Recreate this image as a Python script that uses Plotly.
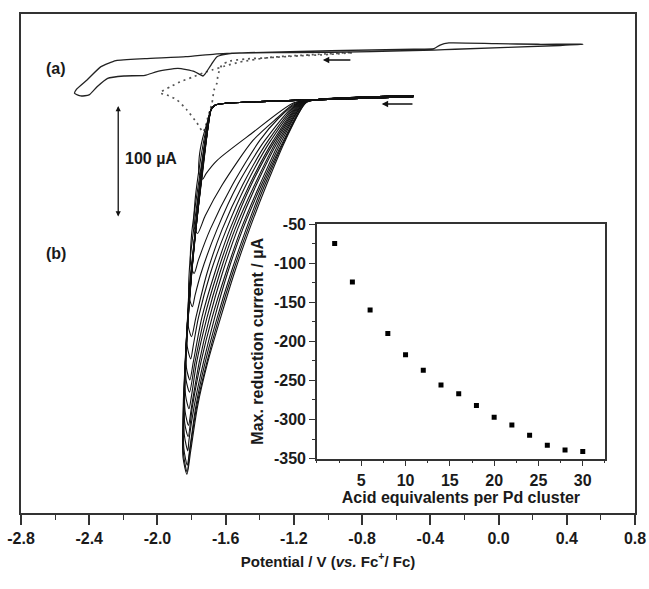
import plotly.graph_objects as go

# inset: peak reduction current vs acid equivalents
acid_eq = [2, 4, 6, 8, 10, 12, 14, 16, 18, 20, 22, 24, 26, 28, 30]
max_current = [-75, -124, -160, -190, -217, -237, -256, -267, -282, -297, -307, -320, -333, -339, -341]

# (a) CV of the cluster, solid loop (potential V, current uA, offset on plot)
a_E = [0.495, 0.36, -0.255, -0.379, -0.742, -1.223, -1.563, -1.651, -1.686, -1.721, -1.733,
       -1.783, -1.88, -2.003, -2.073, -2.196, -2.292, -2.354, -2.401, -2.45, -2.486,
       -2.475, -2.413, -2.331, -2.243, -2.073, -1.833, -1.663, -1.469, -0.982, -0.496,
       -0.379, -0.343, -0.291, -0.015, 0.231, 0.495]
a_I = [46.7, 45.6, 42.2, 41.5, 40.0, 39.1, 38.6, 35.5, 28.0, 19.9, 18.1,
       22.0, 25.0, 22.0, 18.7, 18.1, 16.0, 8.4, 1.0, 0.1, 2.5,
       6.1, 14.5, 26.5, 31.9, 33.7, 35.5, 37.9, 39.1, 40.9, 42.2,
       42.7, 46.0, 47.9, 47.2, 46.7, 46.7]

# (a) dotted curve
d_E = [-0.86, -0.988, -1.223, -1.346, -1.487, -1.575, -1.622, -1.645, -1.651, -1.668,
       -1.68, -1.704, -1.721, -1.733, -1.768, -1.827, -1.885, -1.944, -1.985, -1.926,
       -1.868, -1.792, -1.733, -1.68, -1.604, -1.516, -1.346, -1.106, -0.86]
d_I = [39.0, 37.6, 35.8, 34.6, 33.4, 31.6, 28.0, 19.0, 11.8, 5.5,
       -6.3, -18.9, -28.8, -32.4, -24.3, -12.6, -3.5, 1.0, 2.8, 8.2,
       12.7, 17.2, 20.8, 23.5, 27.1, 30.7, 34.8, 37.2, 39.4]

# (b) catalytic cycles, shared baseline parts
b_fwd_E = [-0.50, -0.80, -1.05]
b_fwd_I = [0.5, -1.0, -3.0]
b_end_E = [-1.66, -1.60, -1.40, -1.00, -0.50]
b_end_I = [-8.0, -6.5, -5.0, -3.0, -0.5]

# cathodic branch of every cycle (one list per acid addition)
b_cath_E = [
    [-1.20, -1.45, -1.65, -1.715, -1.735],
    [-1.19, -1.30, -1.44, -1.62, -1.72, -1.765],
    [-1.18, -1.29, -1.40, -1.56, -1.69, -1.76, -1.785],
    [-1.175, -1.37, -1.53, -1.65, -1.745, -1.78, -1.795],
    [-1.17, -1.35, -1.50, -1.62, -1.71, -1.775, -1.80],
    [-1.165, -1.335, -1.48, -1.595, -1.69, -1.76, -1.79, -1.805],
    [-1.16, -1.32, -1.46, -1.575, -1.665, -1.74, -1.79, -1.81],
    [-1.155, -1.31, -1.45, -1.56, -1.65, -1.725, -1.78, -1.812],
    [-1.15, -1.30, -1.43, -1.545, -1.635, -1.71, -1.77, -1.80, -1.815],
    [-1.145, -1.29, -1.42, -1.53, -1.62, -1.695, -1.755, -1.80, -1.818],
    [-1.14, -1.28, -1.40, -1.51, -1.60, -1.68, -1.745, -1.795, -1.82],
    [-1.14, -1.27, -1.39, -1.50, -1.59, -1.665, -1.73, -1.785, -1.815, -1.822],
    [-1.135, -1.26, -1.38, -1.48, -1.57, -1.65, -1.72, -1.775, -1.812, -1.825],
    [-1.13, -1.255, -1.37, -1.47, -1.56, -1.64, -1.71, -1.77, -1.81, -1.826],
    [-1.13, -1.25, -1.36, -1.46, -1.55, -1.63, -1.705, -1.765, -1.805, -1.827],
]
b_cath_I = [
    [-6, -34, -58, -70, -75],
    [-6, -20, -40, -80, -108, -124],
    [-6, -20, -40, -80, -120, -148, -160],
    [-6, -40, -80, -120, -160, -180, -190],
    [-6, -40, -80, -120, -160, -200, -217],
    [-6, -40, -80, -120, -160, -200, -225, -237],
    [-6, -40, -80, -120, -160, -200, -240, -256],
    [-6, -40, -80, -120, -160, -200, -240, -267],
    [-6, -40, -80, -120, -160, -200, -240, -270, -282],
    [-6, -40, -80, -120, -160, -200, -240, -280, -297],
    [-6, -40, -80, -120, -160, -200, -240, -280, -307],
    [-6, -40, -80, -120, -160, -200, -240, -280, -310, -320],
    [-6, -40, -80, -120, -160, -200, -240, -280, -320, -333],
    [-6, -40, -80, -120, -160, -200, -240, -280, -320, -339],
    [-6, -40, -80, -120, -160, -200, -240, -280, -320, -341],
]
# return (anodic) branch of every cycle
b_ret_E = [
    [-1.755, -1.755, -1.735, -1.705, -1.685],
    [-1.785, -1.78, -1.75, -1.715, -1.685],
    [-1.805, -1.80, -1.765, -1.725, -1.69],
    [-1.815, -1.81, -1.775, -1.735, -1.70, -1.685],
    [-1.82, -1.815, -1.78, -1.74, -1.705, -1.685],
    [-1.825, -1.82, -1.785, -1.745, -1.705, -1.685],
    [-1.83, -1.825, -1.79, -1.75, -1.71, -1.685],
    [-1.832, -1.828, -1.795, -1.752, -1.71, -1.685],
    [-1.835, -1.832, -1.80, -1.755, -1.712, -1.685],
    [-1.838, -1.836, -1.805, -1.76, -1.715, -1.685],
    [-1.84, -1.838, -1.81, -1.765, -1.718, -1.685],
    [-1.842, -1.84, -1.812, -1.768, -1.72, -1.685],
    [-1.845, -1.843, -1.815, -1.77, -1.722, -1.685],
    [-1.847, -1.845, -1.817, -1.772, -1.724, -1.685],
    [-1.85, -1.848, -1.82, -1.775, -1.726, -1.685],
]
b_ret_I = [
    [-70, -55, -38, -22, -12],
    [-118, -95, -60, -30, -12],
    [-152, -125, -85, -45, -14],
    [-181, -150, -105, -60, -25, -12],
    [-207, -175, -125, -75, -30, -12],
    [-226, -190, -135, -80, -30, -12],
    [-245, -205, -145, -85, -35, -12],
    [-256, -215, -150, -88, -35, -12],
    [-270, -225, -160, -92, -37, -12],
    [-284, -235, -168, -98, -38, -12],
    [-295, -245, -175, -102, -40, -12],
    [-306, -255, -182, -106, -42, -12],
    [-318, -265, -190, -110, -44, -12],
    [-323, -270, -195, -112, -45, -12],
    [-326, -275, -200, -115, -46, -12],
]

x_ticks = [-2.8, -2.4, -2.0, -1.6, -1.2, -0.8, -0.4, 0.0, 0.4, 0.8]
x_ticktext = ['-2.8', '-2.4', '-2.0', '-1.6', '-1.2', '-0.8', '-0.4', '0.0', '0.4', '0.8']
in_xticks = [5, 10, 15, 20, 25, 30]
in_yticks = [-350, -300, -250, -200, -150, -100, -50]
in_yticktext = ['-350', '-300', '-250', '-200', '-150', '-100', '-50']

FONT = 'Liberation Sans, Arial'

fig = go.Figure()

fig.add_trace(go.Scatter(x=d_E, y=d_I, mode='lines',
                         line=dict(color='#555', width=1.7, dash='2px,4px', shape='spline', smoothing=0.6),
                         showlegend=False, hoverinfo='skip'))
fig.add_trace(go.Scatter(x=a_E, y=a_I, mode='lines', line=dict(color='#222', width=1.3, shape='spline', smoothing=0.5),
                         showlegend=False, hoverinfo='skip'))

for k in range(len(b_cath_E)):
    xs = b_fwd_E + b_cath_E[k] + b_ret_E[k] + b_end_E
    ys = b_fwd_I + b_cath_I[k] + b_ret_I[k] + b_end_I
    fig.add_trace(go.Scatter(x=xs, y=ys, mode='lines', line=dict(color='#111', width=1.1, shape='spline', smoothing=0.7),
                             showlegend=False, hoverinfo='skip'))

# inset
fig.add_trace(go.Scatter(x=acid_eq, y=max_current, mode='markers', xaxis='x2', yaxis='y2',
                         marker=dict(symbol='square', size=5, color='black'), showlegend=False))

fig.update_layout(
    width=649, height=589,
    margin=dict(l=21, r=14, t=14, b=76),
    paper_bgcolor='white', plot_bgcolor='white',
    font=dict(family=FONT, color='#1a1a1a'),
    xaxis=dict(range=[-2.8, 0.8], tickvals=x_ticks, ticktext=x_ticktext, ticks='outside', ticklen=10, tickwidth=1.6,
               tickcolor='#333', minor=dict(dtick=0.2, ticks='outside', ticklen=5, tickwidth=1.4, tickcolor='#333'),
               showline=True, linecolor='#333', linewidth=2, mirror=True, showgrid=False, zeroline=False,
               automargin=False, tickfont=dict(size=16, weight='bold'), ticklabelstandoff=0, ticklabeloverflow='allow',
               title=dict(text='Potential / V (<i>vs.</i> Fc<sup>+</sup>/ Fc)', font=dict(size=15, weight='bold'), standoff=10)),
    yaxis=dict(range=[-376, 74], showticklabels=False, ticks='', showline=True, linecolor='#333', linewidth=2,
               mirror=True, showgrid=False, zeroline=False, automargin=False),
    xaxis2=dict(domain=[0.482, 0.951], anchor='y2', range=[0, 32.5], tickvals=in_xticks,
                ticks='outside', ticklen=6, tickwidth=1.4, tickcolor='#333',
                minor=dict(dtick=2.5, ticks='outside', ticklen=3, tickcolor='#333'),
                showline=True, linecolor='#333', linewidth=1.6, mirror=True, showgrid=False, zeroline=False,
                automargin=False, tickfont=dict(size=16, weight='bold'),
                title=dict(text='Acid equivalents per Pd cluster', font=dict(size=16, weight='bold'), standoff=2)),
    yaxis2=dict(domain=[0.109, 0.579], anchor='x2', range=[-350, -50], tickvals=in_yticks, ticktext=in_yticktext,
                ticks='outside', ticklen=6, tickwidth=1.4, tickcolor='#333',
                minor=dict(dtick=25, ticks='outside', ticklen=3, tickcolor='#333'),
                showline=True, linecolor='#333', linewidth=1.6, mirror=True, showgrid=False, zeroline=False,
                automargin=False, tickfont=dict(size=16, weight='bold'),
                title=dict(text='Max. reduction current / \u00b5A', font=dict(size=16, weight='bold'), standoff=6)),
)

# scan direction arrows
fig.add_annotation(x=-1.03, y=32.5, ax=-0.86, ay=32.5, xref='x', yref='y', axref='x', ayref='y', text='',
                   showarrow=True, arrowhead=2, arrowsize=0.8, arrowwidth=1.6, arrowcolor='#111')
fig.add_annotation(x=-0.685, y=-7.2, ax=-0.496, ay=-7.2, xref='x', yref='y', axref='x', ayref='y', text='',
                   showarrow=True, arrowhead=2, arrowsize=0.8, arrowwidth=1.6, arrowcolor='#111')
# 100 uA scale bar
fig.add_annotation(x=-2.23, y=-9, ax=-2.23, ay=-110, xref='x', yref='y', axref='x', ayref='y', text='',
                   showarrow=True, arrowhead=2, startarrowhead=2, arrowside='end+start', arrowsize=0.8,
                   arrowwidth=1.3, arrowcolor='#111')
fig.add_annotation(x=-2.202, y=-56.7, xref='x', yref='y', text='<b>100 \u00b5A</b>', showarrow=False,
                   xanchor='left', font=dict(size=16))
fig.add_annotation(x=-2.595, y=25, xref='x', yref='y', text='<b>(a)</b>', showarrow=False, font=dict(size=16))
fig.add_annotation(x=-2.595, y=-142, xref='x', yref='y', text='<b>(b)</b>', showarrow=False, font=dict(size=16))

# drop the default page margin so the figure sits at the window origin, no modebar
fig.write_html('out.html', config={'displayModeBar': False},
               post_script="document.body.style.margin='0';")
